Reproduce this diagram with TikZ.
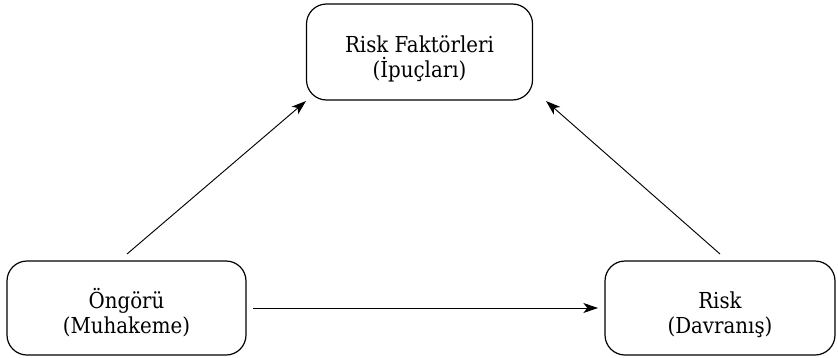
\documentclass[tikz,border=0pt]{standalone}
\usepackage{fontspec}
\setmainfont{DejaVu Serif Condensed}
\usetikzlibrary{arrows.meta}
\newcommand{\topstrut}{\rule{0pt}{22.5pt}}
\newcommand{\botstrut}{\rule[-3.75pt]{0pt}{3.75pt}}
\begin{document}
\begin{tikzpicture}[x=0.75pt,y=-0.75pt,
  box/.style={draw, line width=0.9pt, rounded corners=15pt, align=center, inner sep=0pt, font=\fontsize{16.5}{18.75}\selectfont},
  conn/.style={line width=0.7pt, -{Stealth[length=11pt,width=7.5pt,inset=3pt]}}]
\useasboundingbox (0,0) rectangle (838,357);
\node[box, minimum width=226*0.75pt, minimum height=96*0.75pt] (top) at (419.5,52) {\topstrut Risk Faktörleri\\(İpuçları)\botstrut};
\node[box, minimum width=239*0.75pt, minimum height=94*0.75pt] (left) at (126.5,308) {\topstrut Öngörü\\(Muhakeme)\botstrut};
\node[box, minimum width=230*0.75pt, minimum height=94*0.75pt] (right) at (720,308) {\topstrut Risk\\(Davranış)\botstrut};
\coordinate (a1) at (127,254);
\coordinate (a2) at (306,101);
\coordinate (b1) at (720,254);
\coordinate (b2) at (546,101);
\coordinate (c1) at (253,308);
\coordinate (c2) at (598,308);
\draw[conn] (a1) -- (a2);
\draw[conn] (b1) -- (b2);
\draw[conn] (c1) -- (c2);
\end{tikzpicture}
\end{document}
